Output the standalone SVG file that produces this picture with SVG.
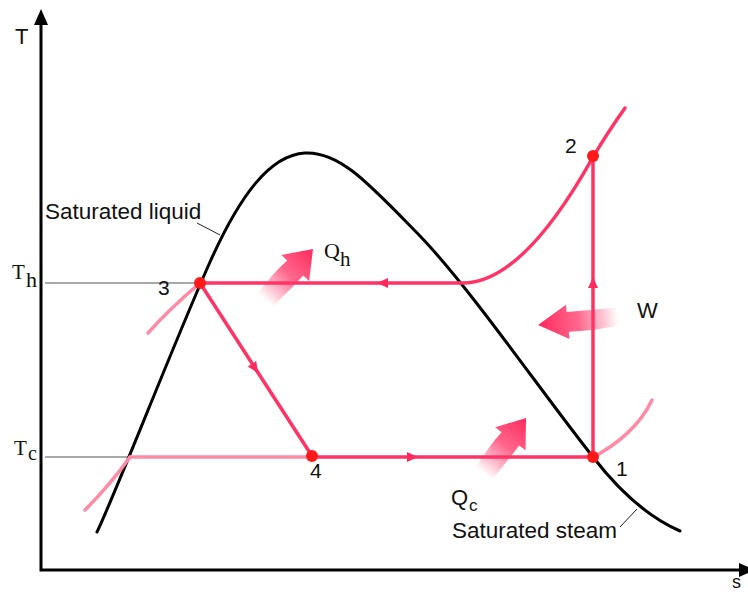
<svg xmlns="http://www.w3.org/2000/svg" width="748" height="594" viewBox="0 0 748 594">
<style>
.sans{font-family:"Liberation Sans",Arial,sans-serif;fill:#111}
.serif{font-family:"Liberation Serif","Times New Roman",serif;fill:#111}
.axis{stroke:#000;stroke-width:3;fill:none}
.guide{stroke:#555;stroke-width:1.2;fill:none}
.lead{stroke:#222;stroke-width:1;fill:none}
.dome{stroke:#000;stroke-width:3;fill:none;stroke-linecap:round}
.cyc{fill:none;stroke:#ff3366;stroke-width:3.5;stroke-linecap:round}
.pale{fill:none;stroke:#ff8aa5;stroke-width:3.5;stroke-linecap:round}
.pt{fill:#ff1a1a}
.ah{fill:#ff2a5c}
.big{fill:url(#fade)}
</style>
<defs>
<linearGradient id="fade" x1="0" y1="0" x2="1" y2="0">
<stop offset="0" stop-color="#ff3366" stop-opacity="0"/>
<stop offset="0.5" stop-color="#ff3366" stop-opacity="0.75"/>
<stop offset="1" stop-color="#ff2a5c" stop-opacity="1"/>
</linearGradient>
<path id="fat" d="M-70,-10 Q-45,-13 -26,-11 L-26,-19 L0,0 L-26,19 L-26,11 Q-45,11 -70,10 Z"/>
<path id="tri" d="M0,0 L-11,-5 L-11,5 Z"/>
</defs>

<g id="axes">
<path class="axis" d="M41,22 L41,570 L742,570"/>
<path d="M41,9 L34,25 L48,25 Z" fill="#000"/>
<path d="M755,570 L739,563 L739,577 Z" fill="#000"/>
<text class="sans" x="15" y="44" font-size="22">T</text>
<text class="sans" x="732" y="588" font-size="18">s</text>
</g>

<g id="guides">
<path class="guide" d="M45,283 L200,283"/>
<path class="guide" d="M45,457 L130,457"/>
<text class="serif" x="12" y="279" font-size="21">T</text>
<text class="serif" x="26" y="287" font-size="22">h</text>
<text class="serif" x="14" y="455" font-size="21">T</text>
<text class="serif" x="28" y="460" font-size="20">c</text>
</g>

<g id="dome">
<path class="dome" d="M97,532 C115,495 175,340 210,262 C240,195 270,155 305,153 C340,151 370,185 420,236 C470,288 540,390 593,457 C620,492 650,518 680,531"/>
<path class="lead" d="M197,223 L220,235"/>
<path class="lead" d="M620,527 L637,509"/>
<text class="sans" x="45" y="219" font-size="22.5">Saturated liquid</text>
<text class="sans" x="452" y="538" font-size="22.5">Saturated steam</text>
</g>

<g id="connectors">
<path class="pale" d="M200,283 C180,300 163,316 148,333"/>
<path class="pale" d="M130,457 C115,478 100,495 85,510"/>
<path class="pale" d="M130,457 L312,457"/>
<path class="pale" d="M593,457 C615,446 640,426 652,400"/>
<path class="cyc" d="M200,283 L312,456"/>
<path class="cyc" d="M312,457 L593,457"/>
<path class="cyc" d="M593,457 L593,157"/>
<path class="cyc" d="M593,157 C555,225 510,283 463,283 L200,283"/>
<path class="cyc" d="M593,157 C605,137 615,122 625,108"/>
<use href="#tri" class="ah" transform="translate(258,373) rotate(57)"/>
<use href="#tri" class="ah" transform="translate(418,457)"/>
<use href="#tri" class="ah" transform="translate(593,277) rotate(-90)"/>
<use href="#tri" class="ah" transform="translate(377,283) rotate(180)"/>
</g>

<g id="heat-h">
<use href="#fat" class="big" transform="translate(313,249) rotate(-47)"/>
<text class="serif" x="324" y="258" font-size="22">Q</text>
<text class="serif" x="340" y="266" font-size="21">h</text>
</g>

<g id="heat-c">
<use href="#fat" class="big" transform="translate(526,418) rotate(-53)"/>
<text class="sans" x="451" y="505" font-size="22">Q</text>
<text class="sans" x="469" y="511" font-size="17">c</text>
</g>

<g id="work">
<use href="#fat" class="big" transform="translate(538,325) rotate(174) scale(1.15,0.9)"/>
<text class="sans" x="637" y="318" font-size="22">W</text>
</g>

<g id="state1"><circle class="pt" cx="593" cy="457" r="6"/><text class="sans" x="616" y="476" font-size="21">1</text></g>
<g id="state2"><circle class="pt" cx="593" cy="156" r="6"/><text class="sans" x="565" y="153" font-size="21">2</text></g>
<g id="state3"><circle class="pt" cx="200" cy="283" r="6"/><text class="sans" x="158" y="295" font-size="21">3</text></g>
<g id="state4"><circle class="pt" cx="312" cy="456" r="6"/><text class="sans" x="310" y="478" font-size="21">4</text></g>
</svg>
